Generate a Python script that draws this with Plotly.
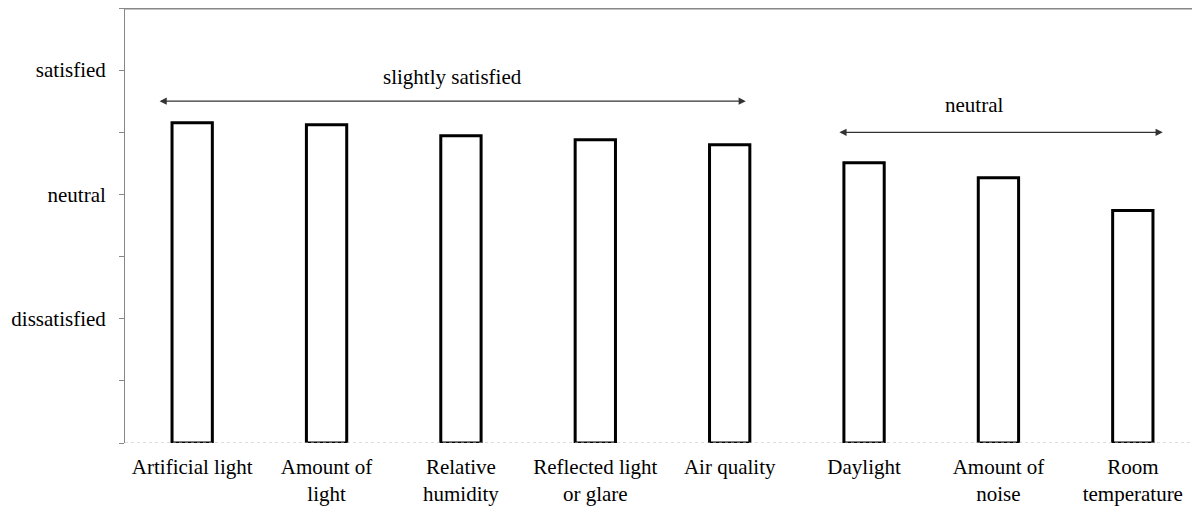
import plotly.graph_objects as go

categories = ["Artificial light", "Amount of<br>light", "Relative<br>humidity",
              "Reflected light<br>or glare", "Air quality", "Daylight",
              "Amount of<br>noise", "Room<br>temperature"]
# satisfaction score: dissatisfied = -1, neutral = 0, satisfied = 1
scores = [0.576, 0.560, 0.472, 0.440, 0.400, 0.255, 0.135, -0.130]
axis_floor = -2
tick_vals = [-2, -1.5, -1, -0.5, 0, 0.5, 1, 1.5]
tick_text = ["", "", "dissatisfied", "", "neutral", "", "satisfied", ""]

font = dict(family="Liberation Serif, serif", size=21, color="black")

fig = go.Figure()
fig.add_trace(go.Bar(
    x=list(range(len(categories))),
    y=[s - axis_floor for s in scores],
    base=axis_floor,
    width=0.3,
    marker=dict(color="white", line=dict(color="black", width=3)),
))

# double-headed range arrows with labels
arrows = [(-0.254, 4.12, 0.75), (4.805, 7.223, 0.5)]
for x0, x1, yv in arrows:
    fig.add_annotation(x=x1, y=yv, ax=x0, ay=yv, xref="x", yref="y", axref="x", ayref="y",
                       showarrow=True, arrowhead=2, arrowside="end+start", arrowsize=1.2,
                       arrowwidth=1.2, arrowcolor="#333", text="")
fig.add_annotation(x=1.935, y=0.945, xref="x", yref="y", text="slightly satisfied",
                   showarrow=False, font=font)
fig.add_annotation(x=5.82, y=0.72, xref="x", yref="y", text="neutral",
                   showarrow=False, font=font)

# top border and dotted baseline
fig.add_shape(type="line", xref="paper", yref="paper", x0=0, x1=1, y0=1, y1=1,
              line=dict(color="#888", width=3))
fig.add_shape(type="line", xref="paper", yref="y", x0=0, x1=1, y0=-2, y1=-2,
              line=dict(color="#bbb", width=1, dash="dot"))

fig.update_layout(
    width=1192, height=498,
    margin=dict(l=117, r=0, t=0, b=63),
    plot_bgcolor="white", paper_bgcolor="white",
    showlegend=False, font=font,
    xaxis=dict(tickmode="array", tickvals=list(range(len(categories))), ticktext=categories,
               range=[-0.5, len(categories) - 0.5], showgrid=False, zeroline=False,
               showline=False, ticks="", tickfont=font, ticklabelstandoff=9),
    yaxis=dict(range=[-2, 1.5], tickmode="array", tickvals=tick_vals, ticktext=tick_text,
               showgrid=False, zeroline=False, showline=True, linecolor="#888", linewidth=1,
               ticks="outside", ticklen=5, tickcolor="#888", tickfont=font,
               ticklabelstandoff=9),
)

fig.write_html("out.html")
